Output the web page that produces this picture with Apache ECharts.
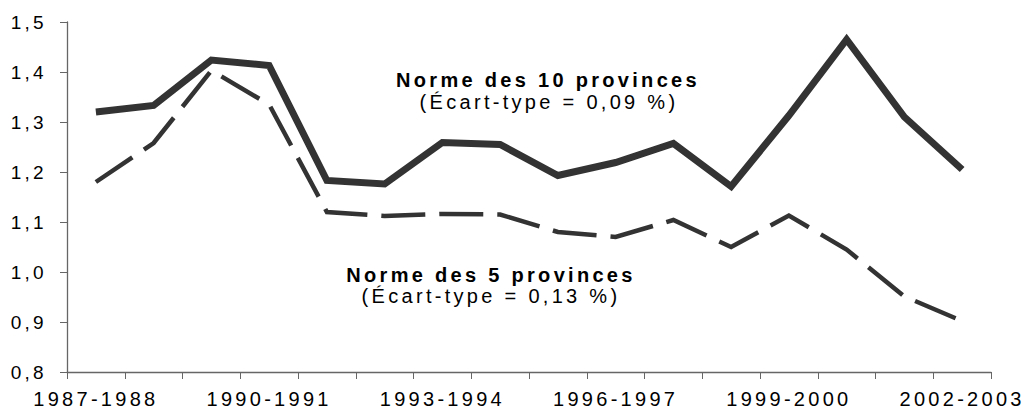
<!DOCTYPE html>
<html>
<head>
<meta charset="utf-8">
<script src="https://cdn.jsdelivr.net/npm/echarts@6/dist/echarts.min.js"></script>
<style>
  html, body { margin: 0; padding: 0; background: #fff; }
  #chart { width: 1025px; height: 417px; }
  #chart text { letter-spacing: 3.3px; }
</style>
</head>
<body>
<div id="chart"></div>
<script>
const categories = ['1987-1988','1988-1989','1989-1990','1990-1991','1991-1992','1992-1993','1993-1994','1994-1995','1995-1996','1996-1997','1997-1998','1998-1999','1999-2000','2000-2001','2001-2002','2002-2003'];
const norme10 = [1.32, 1.333, 1.424, 1.413, 1.183, 1.176, 1.259, 1.255, 1.193, 1.219, 1.257, 1.171, 1.313, 1.465, 1.31, 1.205];
const norme5 = [1.18, 1.258, 1.403, 1.335, 1.12, 1.112, 1.116, 1.115, 1.08, 1.07, 1.104, 1.05, 1.113, 1.045, 0.951, 0.902];
const yTicks = {min: 0.8, max: 1.5, interval: 0.1};
const label10 = ['Norme des 10 provinces', '(Écart-type = 0,09 %)'];
const label5 = ['Norme des 5 provinces', '(Écart-type = 0,13 %)'];

const FONT = '"Liberation Sans", Arial, sans-serif';
const chart = echarts.init(document.getElementById('chart'), null, {renderer: 'svg'});
chart.setOption({
  animation: false,
  backgroundColor: '#ffffff',
  grid: {left: 67, right: 34, top: 22, bottom: 45, containLabel: false},
  xAxis: {
    type: 'category',
    data: categories,
    boundaryGap: true,
    axisLine: {show: true, lineStyle: {color: '#666', width: 1.3}},
    axisTick: {show: true, interval: 0, length: 7, lineStyle: {color: '#666'}},
    axisLabel: {interval: 2, margin: 17, color: '#000', fontSize: 20, fontFamily: FONT},
    splitLine: {show: false}
  },
  yAxis: {
    type: 'value',
    min: yTicks.min, max: yTicks.max, interval: yTicks.interval,
    axisLine: {show: true, lineStyle: {color: '#666', width: 1.3}},
    axisTick: {show: true, length: 7, lineStyle: {color: '#666'}},
    axisLabel: {margin: 20, color: '#000', fontSize: 19, fontFamily: FONT,
      formatter: v => v.toFixed(1).replace('.', ',')},
    splitLine: {show: false}
  },
  series: [
    {
      name: 'Norme des 5 provinces',
      type: 'line',
      data: norme5,
      symbol: 'none',
      lineStyle: {color: '#333', width: 4.5, type: [44, 14], cap: 'butt', join: 'miter'},
      z: 2
    },
    {
      name: 'Norme des 10 provinces',
      type: 'line',
      data: norme10,
      symbol: 'none',
      lineStyle: {color: '#333', width: 7, type: 'solid', join: 'miter'},
      z: 3
    }
  ],
  graphic: [
    {type: 'text', x: 548, y: 79.5, style: {text: label10[0], align: 'center', verticalAlign: 'middle', fill: '#000', font: 'bold 20px ' + FONT}},
    {type: 'text', x: 549, y: 101.5, style: {text: label10[1], align: 'center', verticalAlign: 'middle', fill: '#000', font: '20px ' + FONT}},
    {type: 'text', x: 491, y: 274.5, style: {text: label5[0], align: 'center', verticalAlign: 'middle', fill: '#000', font: 'bold 20px ' + FONT}},
    {type: 'text', x: 491, y: 296, style: {text: label5[1], align: 'center', verticalAlign: 'middle', fill: '#000', font: '20px ' + FONT}}
  ]
});
</script>
</body>
</html>
